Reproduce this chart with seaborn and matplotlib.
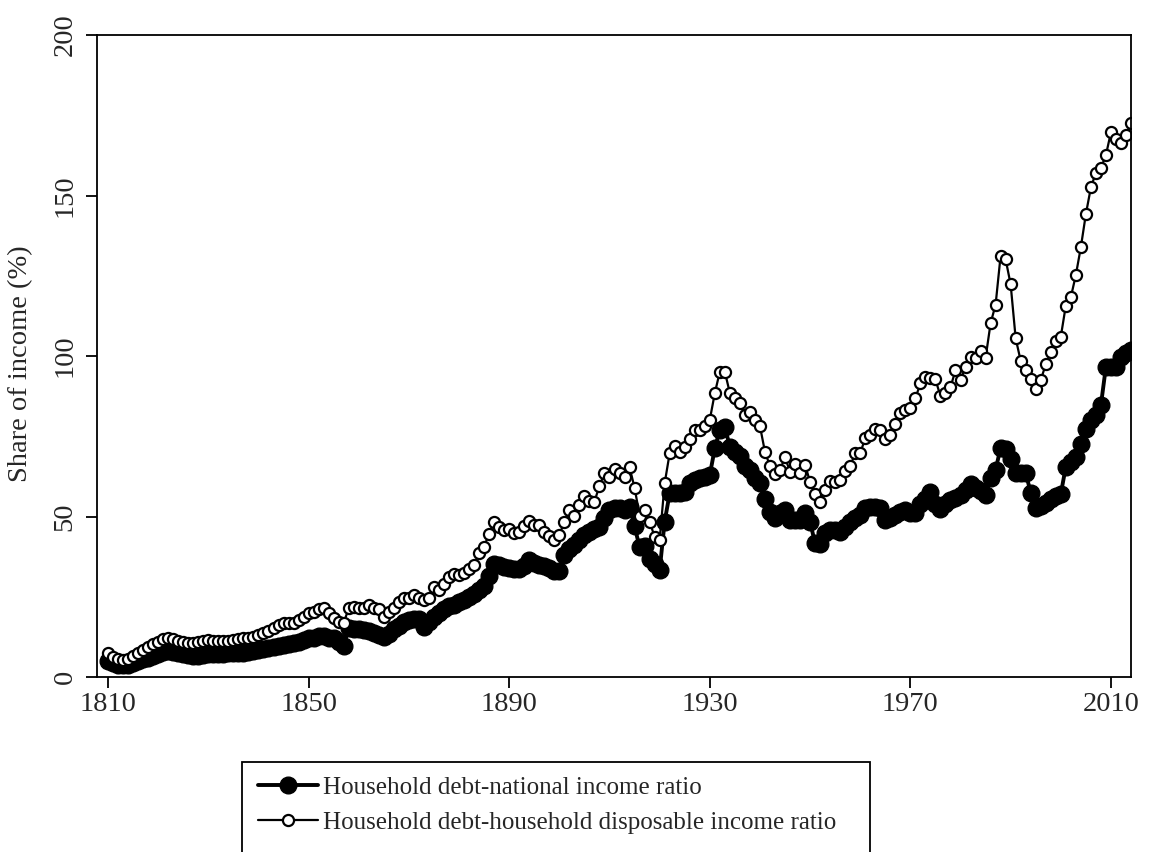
import numpy as np
import pandas as pd
import matplotlib
matplotlib.use("Agg")
import matplotlib.pyplot as plt
from matplotlib.patches import Rectangle
import seaborn as sns

# --------- DATA (share of income in %) ----------------------------------
years = list(range(1810, 2015))

debt_national_income = [
    5.0, 4.3, 3.8, 3.7, 3.8, 4.3, 4.9, 5.5, 6.0, 6.5,            # 1810s
    7.2, 7.8, 8.0, 7.7, 7.4, 7.1, 6.8, 6.5, 6.6, 6.9,            # 1820s
    7.1, 7.3, 7.3, 7.2, 7.4, 7.5, 7.5, 7.6, 7.8, 8.1,            # 1830s
    8.4, 8.7, 9.1, 9.5, 9.8, 10.1, 10.4, 10.7, 11.0, 11.5,       # 1840s
    12.0, 12.3, 12.8, 12.7, 12.3, 12.1, 11.0, 9.8, 15.3, 15.0,   # 1850s
    14.8, 14.6, 14.3, 13.8, 13.0, 12.4, 13.5, 14.9, 16.0, 17.0,  # 1860s
    17.8, 18.0, 18.1, 15.5, 17.0, 18.6, 20.0, 21.2, 22.0, 22.5,  # 1870s
    23.3, 24.0, 25.0, 25.8, 27.0, 28.5, 31.5, 35.3, 35.0, 34.3,  # 1880s
    34.0, 33.5, 33.5, 34.5, 36.5, 35.5, 35.0, 34.5, 34.0, 33.0,  # 1890s
    33.0, 38.0, 40.0, 41.2, 42.7, 44.2, 45.3, 46.0, 46.8, 49.4,  # 1900s
    52.0, 52.5, 52.5, 52.0, 53.0, 47.0, 40.4, 40.9, 36.8, 35.2,  # 1910s
    33.2, 48.4, 57.2, 57.4, 57.4, 57.7, 60.3, 61.3, 61.9, 62.4,  # 1920s
    62.9, 71.2, 77.0, 78.0, 71.7, 70.2, 68.7, 65.6, 64.5, 61.9,  # 1930s
    60.4, 55.4, 51.5, 49.4, 51.0, 52.0, 49.0, 49.0, 49.0, 51.0,  # 1940s
    48.4, 41.6, 41.4, 44.8, 45.8, 45.8, 45.3, 46.8, 48.4, 49.4,  # 1950s
    50.5, 52.5, 53.0, 53.0, 52.5, 49.0, 49.4, 50.5, 51.5, 52.0,  # 1960s
    51.0, 51.0, 54.0, 55.5, 57.5, 54.0, 52.2, 54.0, 55.0, 55.8,  # 1970s
    56.8, 58.4, 60.0, 58.9, 57.9, 56.8, 62.0, 64.6, 71.4, 70.9,  # 1980s
    67.8, 63.6, 63.6, 63.6, 57.4, 52.8, 53.3, 54.3, 55.4, 56.4,  # 1990s
    57.0, 65.5, 67.0, 68.6, 72.7, 77.4, 80.0, 81.6, 84.7, 96.7,  # 2000s
    96.7, 96.7, 99.8, 100.8, 101.9,                              # 2010-2014
]

debt_disposable_income = [
    7.6, 6.1, 5.5, 5.3, 5.5, 6.5, 7.6, 8.4, 9.5, 10.3,
    11.0, 11.7, 12.3, 11.7, 11.3, 11.0, 10.7, 10.5, 10.8, 11.2,
    11.5, 11.3, 11.2, 11.3, 11.3, 11.5, 11.7, 12.0, 12.0, 12.6,
    13.1, 13.6, 14.4, 15.2, 16.2, 16.7, 16.7, 16.9, 17.9, 18.8,
    19.8, 20.3, 21.1, 21.4, 19.8, 18.3, 17.2, 16.9, 21.4, 21.9,
    21.6, 21.4, 22.4, 21.6, 21.1, 18.8, 20.3, 21.6, 23.5, 24.5,
    24.5, 25.6, 24.5, 24.0, 24.5, 28.1, 27.1, 29.0, 31.2, 32.0,
    31.8, 32.5, 33.8, 34.9, 38.5, 40.6, 44.7, 48.4, 46.8, 45.8,
    46.2, 44.8, 45.3, 47.1, 48.7, 47.4, 47.4, 45.3, 44.0, 42.7,
    44.2, 48.4, 52.0, 50.3, 53.6, 56.4, 54.8, 54.6, 59.6, 63.4,
    62.4, 64.7, 63.6, 62.2, 65.3, 59.0, 50.3, 52.0, 48.4, 43.7,
    42.7, 60.3, 69.7, 72.0, 70.2, 71.6, 74.1, 77.0, 76.8, 78.1,
    80.1, 88.4, 95.1, 95.1, 88.5, 86.8, 85.5, 81.6, 82.6, 80.1,
    78.2, 70.2, 65.7, 63.1, 64.5, 68.4, 64.0, 66.4, 63.5, 66.1,
    60.8, 57.0, 54.6, 58.1, 61.2, 60.9, 61.4, 64.3, 65.7, 69.7,
    69.7, 74.4, 75.4, 77.2, 77.0, 74.1, 75.4, 78.8, 82.1, 83.2,
    83.7, 86.8, 91.5, 93.4, 93.0, 92.7, 87.5, 88.4, 90.3, 95.5,
    92.4, 96.7, 99.7, 99.4, 101.7, 99.4, 110.2, 116.0, 131.3, 130.1,
    122.3, 105.5, 98.5, 95.6, 92.7, 89.6, 92.5, 97.4, 101.1, 104.8,
    106.0, 115.7, 118.3, 125.2, 133.9, 144.2, 152.5, 157.1, 158.5, 162.6,
    169.7, 167.5, 166.3, 168.8, 172.5,
]

x_ticks = [1810, 1850, 1890, 1930, 1970, 2010]
y_ticks = [0, 50, 100, 150, 200]
label_national = "Household debt-national income ratio"
label_disposable = "Household debt-household disposable income ratio"

df = pd.DataFrame({"year": years,
                   "national": debt_national_income,
                   "disposable": debt_disposable_income})

# --------- STYLE ----------
sns.set_style("ticks")
plt.rcParams["font.family"] = ["Liberation Serif", "DejaVu Serif"]
FS = 20.5
FS_LEG = 18

fig = plt.figure(figsize=(11.51, 8.52), dpi=100)
ax = fig.add_axes([97 / 1151, 1 - 677 / 852, (1131 - 97) / 1151, (677 - 35) / 852])

# --------- LINES ----------
sns.lineplot(data=df, x="year", y="national", ax=ax, color="black",
             linewidth=2.8, marker="o", markersize=12,
             markerfacecolor="black", markeredgecolor="black",
             markeredgewidth=1)
sns.lineplot(data=df, x="year", y="disposable", ax=ax, color="black",
             linewidth=1.6, marker="o", markersize=8,
             markerfacecolor="white", markeredgecolor="black",
             markeredgewidth=1.6)

ax.set_xlim(1807.8, 2014)
ax.set_ylim(0, 200)
ax.set_xticks(x_ticks)
ax.set_xticklabels([str(t) for t in x_ticks], fontsize=FS)
ax.set_yticks(y_ticks)
ax.set_yticklabels([str(t) for t in y_ticks], fontsize=FS, rotation=90, va="center")
ax.set_xlabel("")
ax.set_ylabel("Share of income (%)", fontsize=FS)
ax.yaxis.set_label_coords(-0.062, 0.4875)

for side in ["top", "right", "left", "bottom"]:
    ax.spines[side].set_visible(True)
    ax.spines[side].set_linewidth(1.3)
    ax.spines[side].set_color("black")
ax.tick_params(axis="x", direction="out", length=8, width=1.3, color="black", pad=3)
ax.tick_params(axis="y", direction="out", length=8, width=1.3, color="black", pad=6)

# --------- LEGEND (below the plot, box runs off the bottom edge) ----------
h1 = ax.lines[0]
h2 = ax.lines[1]
leg = fig.legend([h1, h2], [label_national, label_disposable],
                 loc="upper left", bbox_to_anchor=(258 / 1151, 1 - 776 / 852),
                 frameon=False, fontsize=FS_LEG, handlelength=2.4,
                 handletextpad=0.2, borderpad=0, labelspacing=0.5,
                 borderaxespad=0)
fig.patches.append(Rectangle((242 / 1151, -0.02), (870 - 242) / 1151, (852 - 762) / 852 + 0.02,
                             transform=fig.transFigure, fill=False,
                             edgecolor="black", linewidth=1.3))

fig.savefig("out.png", dpi=100)
